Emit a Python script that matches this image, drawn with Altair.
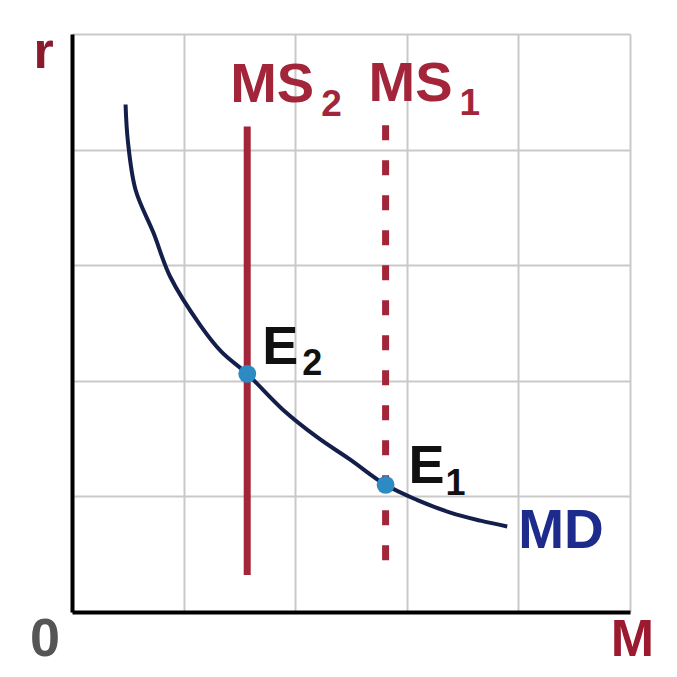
import altair as alt
import pandas as pd

# Money demand curve (MD)
md_m = [0.48, 0.50, 0.57, 0.73, 0.88, 1.15, 1.34, 1.57, 1.89, 2.20, 2.49, 2.81, 3.09, 3.39, 3.66, 3.90]
md_r = [4.39, 4.08, 3.65, 3.28, 2.90, 2.48, 2.25, 2.06, 1.75, 1.51, 1.32, 1.10, 0.97, 0.86, 0.79, 0.74]
md_label = "MD"

# Money supply lines
ms_names = ["MS2", "MS1"]
ms_m = [1.57, 2.81]
ms_top = [4.20, 4.21]
ms_bottom = [0.32, 0.39]
ms_main = ["MS", "MS"]
ms_sub = ["2", "1"]

# Equilibria
eq_names = ["E2", "E1"]
eq_m = [1.57, 2.81]
eq_r = [2.06, 1.10]
eq_main = ["E", "E"]
eq_sub = ["2", "1"]

grid_values = [0, 1, 2, 3, 4, 5]
x_title = "M"
y_title = "r"
origin_label = "0"

md_df = pd.DataFrame({"m": md_m, "r": md_r})
md_lab_df = pd.DataFrame({"m": [md_m[-1]], "r": [md_r[-1]], "t": [md_label]})
ms_df = pd.DataFrame({"name": ms_names, "m": ms_m, "top": ms_top, "bottom": ms_bottom,
                      "main": ms_main, "sub": ms_sub})
eq_df = pd.DataFrame({"name": eq_names, "m": eq_m, "r": eq_r, "main": eq_main, "sub": eq_sub})
origin_df = pd.DataFrame({"m": [0], "r": [0], "t": [origin_label]})

RED = "#a3253a"
FONT = "Liberation Sans"

xs = alt.Scale(domain=[0, 5], nice=False, zero=False)
ys = alt.Scale(domain=[0, 5], nice=False, zero=False)

x_axis = alt.Axis(values=grid_values, grid=True, gridColor="#c9c9c9", gridWidth=2,
                  domainColor="black", domainWidth=4, ticks=False, tickSize=0, labels=False,
                  title=x_title, titleX=560, titleY=54, titleAlign="center",
                  titleBaseline="bottom", titleFontSize=52, titleFont=FONT,
                  titleFontWeight="bold", titleColor="#9b1a30", titleAngle=0)
y_axis = alt.Axis(values=grid_values, grid=True, gridColor="#c9c9c9", gridWidth=2,
                  domainColor="black", domainWidth=4, ticks=False, tickSize=0, labels=False,
                  title=y_title, titleAngle=0, titleX=-29, titleY=33, titleAlign="center",
                  titleBaseline="alphabetic", titleFontSize=52, titleFont=FONT,
                  titleFontWeight="bold", titleColor="#8b1a2e")


def X(field):
    return alt.X(field, type="quantitative", scale=xs, axis=x_axis)


def Y(field):
    return alt.Y(field, type="quantitative", scale=ys, axis=y_axis)


curve = alt.Chart(md_df).mark_line(color="#141e4a", strokeWidth=4,
                                   interpolate="catmull-rom").encode(x=X("m"), y=Y("r"))

ms_base = alt.Chart(ms_df)
ms2_rule = ms_base.transform_filter(alt.datum.name == "MS2").mark_rule(
    color=RED, strokeWidth=7).encode(x=X("m"), y=Y("top"), y2="bottom:Q")
ms1_rule = ms_base.transform_filter(alt.datum.name == "MS1").mark_rule(
    color=RED, strokeWidth=7, strokeDash=[15, 20]).encode(x=X("m"), y=Y("top"), y2="bottom:Q")

ms_main_text = ms_base.mark_text(align="left", baseline="alphabetic", dx=-17, dy=-24,
                                 fontSize=56, fontWeight="bold", font=FONT, color=RED).encode(
    x=X("m"), y=Y("top"), text="main:N")
ms_sub_text = ms_base.mark_text(align="left", baseline="alphabetic", dx=74, dy=-10,
                                fontSize=37, fontWeight="bold", font=FONT, color=RED).encode(
    x=X("m"), y=Y("top"), text="sub:N")

points = alt.Chart(eq_df).mark_circle(size=320, color="#2d8bc4", opacity=1).encode(
    x=X("m"), y=Y("r"))


def eq_text(name, dx, dy, sdx, sdy):
    base = alt.Chart(eq_df).transform_filter(alt.datum.name == name)
    main = base.mark_text(align="left", baseline="alphabetic", dx=dx, dy=dy, fontSize=54,
                          fontWeight="bold", font=FONT, color="#111111").encode(
        x=X("m"), y=Y("r"), text="main:N")
    sub = base.mark_text(align="left", baseline="alphabetic", dx=sdx, dy=sdy, fontSize=36,
                         fontWeight="bold", font=FONT, color="#111111").encode(
        x=X("m"), y=Y("r"), text="sub:N")
    return main + sub


e2_text = eq_text("E2", 15, -10, 55, 1)
e1_text = eq_text("E1", 23, -2, 60, 10)

md_text = alt.Chart(md_lab_df).mark_text(align="left", baseline="alphabetic", dx=11, dy=22,
                                         fontSize=55, fontWeight="bold", font=FONT,
                                         color="#1c2b8c").encode(
    x=X("m"), y=Y("r"), text="t:N")

origin_text = alt.Chart(origin_df).mark_text(align="center", baseline="middle", dx=-27, dy=28,
                                             fontSize=54, fontWeight="bold", font=FONT,
                                             color="#555555").encode(
    x=X("m"), y=Y("r"), text="t:N")

chart = alt.layer(
    curve, ms2_rule, ms1_rule, points, ms_main_text, ms_sub_text, e2_text, e1_text, md_text,
    origin_text
).properties(
    width=558, height=578,
    autosize=alt.AutoSizeParams(type="none"),
    padding={"left": 64, "top": 26, "right": 35, "bottom": 55},
    background="white",
).configure_view(stroke=None)

chart.save("out.html", embed_options={"renderer": "svg", "actions": False})
